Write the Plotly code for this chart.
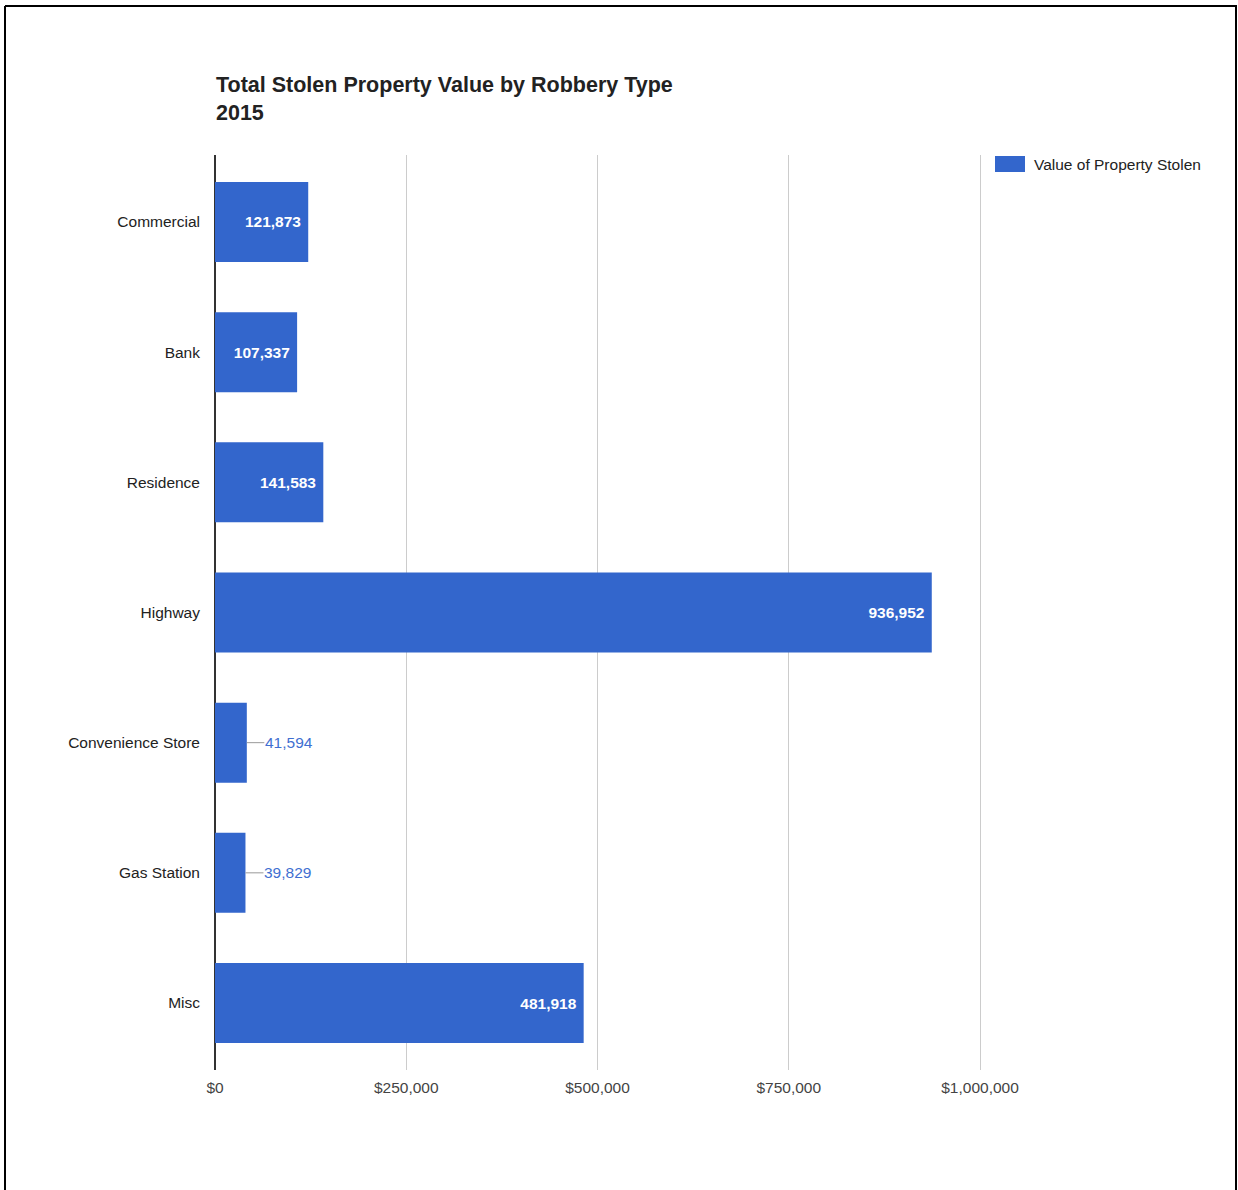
import plotly.graph_objects as go

# ---- data ----
categories = ["Commercial", "Bank", "Residence", "Highway", "Convenience Store", "Gas Station", "Misc"]
values = [121873, 107337, 141583, 936952, 41594, 39829, 481918]
series_name = "Value of Property Stolen"
title_lines = ["Total Stolen Property Value by Robbery Type", "2015"]
tick_values = [0, 250000, 500000, 750000, 1000000]
tick_labels = ["$0", "$250,000", "$500,000", "$750,000", "$1,000,000"]
inside_threshold = 100000

BAR = "#3366cc"
FONT = "Arial, Liberation Sans, sans-serif"

W, H = 1238, 1190
L, R, T, B = 215, 983, 155, 1070  # plot area pixel box
X0_PX, X1M_PX = 215, 980           # pixel of $0 and $1,000,000
CAT_STEP_PX = 130.17               # pixel distance between categories

x_max = tick_values[-1] * (R - L) / (X1M_PX - X0_PX)
n = len(categories)
pad = ((B - T) / CAT_STEP_PX - n) / 2


def px(x):
    return (x - L) / (R - L)


def py(y):
    return (B - y) / (B - T)


inside_text = [f"<b>{v:,}</b>\u00a0" if v > inside_threshold else "" for v in values]

fig = go.Figure()
fig.add_trace(go.Bar(
    x=values, y=categories, orientation="h",
    marker=dict(color=BAR, line=dict(width=0)),
    name=series_name, showlegend=False,
    text=inside_text, textposition="inside", insidetextanchor="end",
    textfont=dict(color="white", size=15.5, family=FONT),
    hoverinfo="x+y",
))

annotations = []
for c, v in zip(categories, values):
    if v <= inside_threshold:
        annotations.append(dict(
            x=v, y=c, xref="x", yref="y", text=f"{v:,}",
            showarrow=True, arrowhead=0, arrowwidth=1, arrowcolor="#999999",
            ax=42, ay=0, font=dict(color="#3f6fd1", size=15.5, family=FONT),
            borderpad=0,
        ))

# manual legend text
annotations.append(dict(
    x=px(1032), y=py(164), xref="paper", yref="paper", xanchor="left", yanchor="middle",
    text=series_name, showarrow=False, font=dict(color="#222222", size=15.5, family=FONT),
))

shapes = [
    # legend swatch
    dict(type="rect", xref="paper", yref="paper", x0=px(995), x1=px(1025), y0=py(156), y1=py(172),
         fillcolor=BAR, line=dict(width=0)),
    # outer frame
    dict(type="line", xref="paper", yref="paper", x0=px(5), x1=px(1237), y0=py(6), y1=py(6),
         line=dict(color="black", width=2)),
    dict(type="line", xref="paper", yref="paper", x0=px(5), x1=px(5), y0=py(6), y1=py(1200),
         line=dict(color="black", width=2)),
    dict(type="line", xref="paper", yref="paper", x0=px(1236), x1=px(1236), y0=py(6), y1=py(1200),
         line=dict(color="black", width=2)),
]

fig.update_layout(
    width=W, height=H,
    margin=dict(l=L, r=W - R, t=T, b=H - B, pad=0),
    paper_bgcolor="white", plot_bgcolor="white",
    font=dict(family=FONT, size=15.5, color="#222222"),
    title=dict(
        text=f"<b>{title_lines[0]}</b><br><b>{title_lines[1]}</b>",
        x=216 / W, xanchor="left", xref="container",
        y=1 - 92 / H, yanchor="top", yref="container",
        font=dict(size=21.5, color="#222222", family=FONT),
    ),
    bargap=1 - 80 / CAT_STEP_PX,
    xaxis=dict(
        range=[0, x_max], tickvals=tick_values, ticktext=tick_labels,
        showgrid=True, gridcolor="#cccccc", gridwidth=1,
        zeroline=True, zerolinecolor="#333333", zerolinewidth=1.5,
        showline=False, ticks="", ticklabelstandoff=6,
        tickfont=dict(color="#444444", size=15.5, family=FONT),
        fixedrange=True,
    ),
    yaxis=dict(
        categoryorder="array", categoryarray=categories,
        range=[n - 0.5 + pad, -0.5 - pad],
        showgrid=False, zeroline=False, showline=False, ticks="",
        ticklabelstandoff=14,
        tickfont=dict(color="#222222", size=15.5, family=FONT),
        fixedrange=True,
    ),
    annotations=annotations,
    shapes=shapes,
    showlegend=False,
)

fig.write_html(
    "out.html",
    config={"displayModeBar": False},
    post_script="document.body.style.margin='0';document.body.style.overflow='hidden';",
)
